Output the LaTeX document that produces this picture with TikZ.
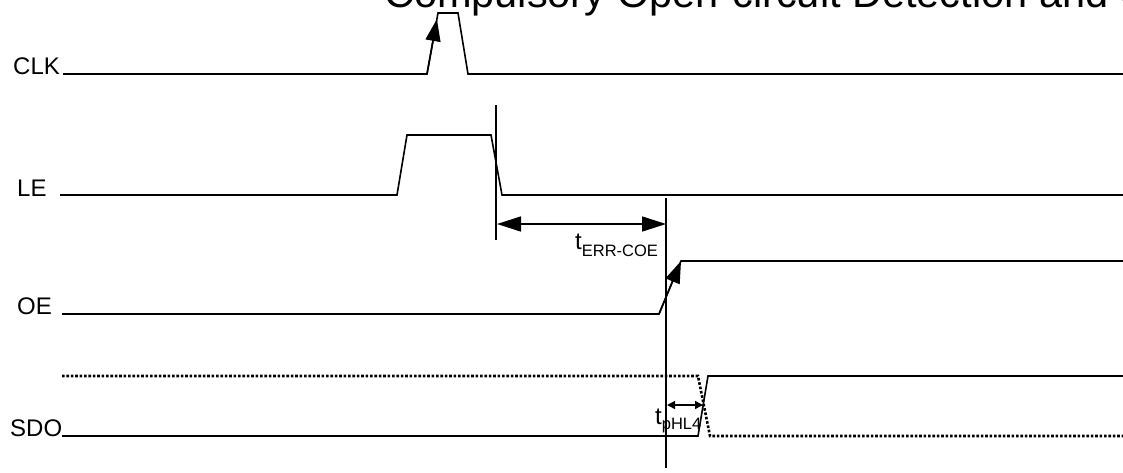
\documentclass[tikz,border=0pt]{standalone}
\usepackage{fontspec}
\setmainfont{Liberation Sans}
\usetikzlibrary{arrows.meta,calc}
\begin{document}
\begin{tikzpicture}[x=1pt,y=-1pt,
  wave/.style={line width=1.6pt,line join=miter},
  dotwave/.style={line width=2.6pt,dash pattern=on 2.6pt off 1.8pt},
  marker/.style={line width=1.6pt},
  bigtip/.style={-{Triangle[length=22pt,width=15pt]},line width=1.6pt},
  bigdbl/.style={{Triangle[length=24pt,width=15pt]}-{Triangle[length=24pt,width=15pt]},line width=1.6pt},
  smalldbl/.style={{Triangle[length=8pt,width=8pt]}-{Triangle[length=8pt,width=8pt]},line width=1.4pt},
  siglabel/.style={anchor=base west,inner sep=0pt,font=\fontsize{24}{24}\selectfont},
  titletext/.style={anchor=base west,inner sep=0pt,font=\fontsize{41.5}{41.5}\selectfont}
]
\clip (0,0) rectangle (1123,472);
\useasboundingbox (0,0) rectangle (1123,472);

% title (clipped at the top and right, as in the reference)
\node[titletext] (title) at (384,7) {Compulsory Open-circuit Detection and Clear};

% labels
\node[siglabel] (clk) at (13,74) {CLK};
\node[siglabel] (le) at (17,196) {LE};
\node[siglabel] (oe) at (17,314) {OE};
\node[siglabel] (sdo) at (10,436) {SDO};

% CLK
\draw[wave] (63,74) -- (427,74) -- (438,13) -- (458,13) -- (468,74) -- (1123,74);
\coordinate (clkA) at (427,74);
\coordinate (clkB) at ($(427,74)!0.9!(438,13)$);
\draw[bigtip] (clkA) -- (clkB);

% LE
\draw[wave] (60,195) -- (397,195) -- (407,135) -- (491,135) -- (502,195) -- (1123,195);

% vertical markers
\coordinate (m1t) at (496,105);
\coordinate (m1b) at (496,240);
\draw[marker] (m1t) -- (m1b);
\coordinate (m2t) at (666,198);
\coordinate (m2b) at (666,468);
\draw[marker] (m2t) -- (m2b);

% t_ERR-COE
\coordinate (e1) at (497,224);
\coordinate (e2) at (666,224);
\draw[bigdbl] (e1) -- (e2);
\node[anchor=base west,inner sep=0pt] (terr) at (575,249)
  {\fontsize{24}{24}\selectfont t\raisebox{-7pt}{\fontsize{16.5}{16.5}\selectfont ERR-COE}};

% OE
\draw[wave] (62,314) -- (659,314) -- (681,261) -- (1123,261);
\coordinate (oeA) at (659,314);
\coordinate (oeB) at (681,261);
\draw[bigtip] (oeA) -- (oeB);

% SDO
\draw[dotwave] (62,376) -- (698,376) -- (710,436) -- (1123,436);
\draw[wave] (62,436) -- (698,436) -- (708,376) -- (1123,376);

% t_pHL4
\coordinate (p1) at (667,405);
\coordinate (p2) at (703,405);
\draw[smalldbl] (p1) -- (p2);
\node[anchor=base west,inner sep=0pt] (tphl) at (655,424)
  {\fontsize{24}{24}\selectfont t\raisebox{-5pt}{\fontsize{16.5}{16.5}\selectfont pHL4}};
\end{tikzpicture}
\end{document}
